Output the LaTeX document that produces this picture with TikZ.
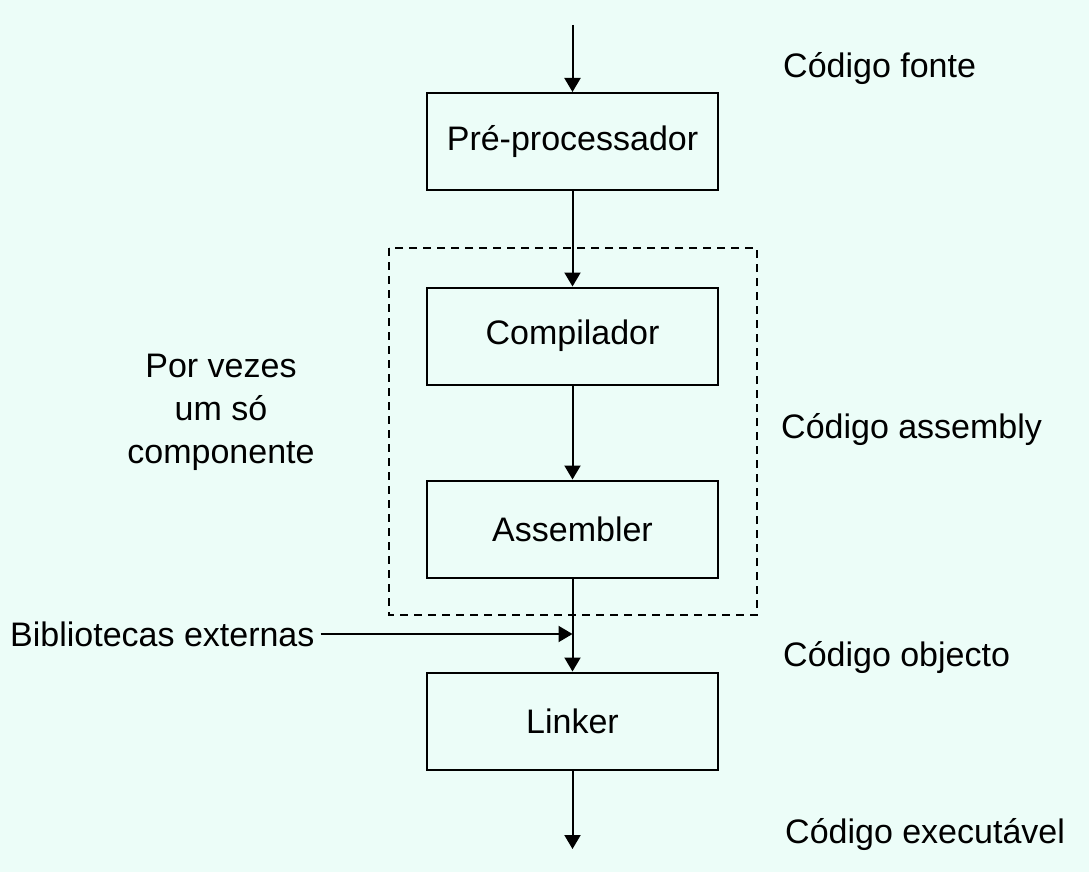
\documentclass[tikz,border=0pt]{standalone}
\usepackage{fontspec}
\setmainfont{Liberation Sans}
\usetikzlibrary{arrows.meta}
\definecolor{bgmint}{RGB}{236,253,248}
\begin{document}
\begin{tikzpicture}[x=1pt,y=-1pt,
  every node/.style={font=\fontsize{34}{43}\selectfont, inner sep=0pt},
  procbox/.style={draw, line width=2pt, minimum width=291pt, minimum height=97pt},
  conn/.style={line width=2pt, -{Triangle[width=16pt,length=14pt]}},
  lbl/.style={anchor=base west},
  groupbox/.style={line width=2pt, dash pattern=on 8pt off 6pt}]
\fill[bgmint] (0,0) rectangle (1089,872);
\useasboundingbox (0,0) rectangle (1089,872);
\node[procbox] (pre) at (572.5,141.5) {Pré-processador};
\node[procbox] (comp) at (572.5,336) {Compilador};
\node[procbox] (asm) at (572.5,529) {Assembler};
\node[procbox] (link) at (572.5,721) {Linker};
\draw[groupbox] (389,248) rectangle (757,615);
\coordinate (src) at (572.5,25);
\coordinate (out) at (572.5,849);
\draw[conn] (src) -- (pre.north);
\draw[conn] (pre.south) -- (comp.north);
\draw[conn] (comp.south) -- (asm.north);
\draw[conn] (asm.south) -- (link.north);
\draw[conn] (link.south) -- (out);
\node[anchor=west] (bib) at (10,634) {Bibliotecas externas};
\coordinate (join) at (bib.east -| asm.south);
\draw[conn] ([xshift=6pt]bib.east) -- (join);
\node[lbl] (cf) at (783,78) {Código fonte};
\node[lbl] (ca) at (781,438) {Código assembly};
\node[lbl] (co) at (783,666) {Código objecto};
\node[lbl] (ce) at (785,843) {Código executável};
\node[align=center, anchor=base] (pv) at (221,463) {Por vezes\\um só\\componente};
\end{tikzpicture}
\end{document}
